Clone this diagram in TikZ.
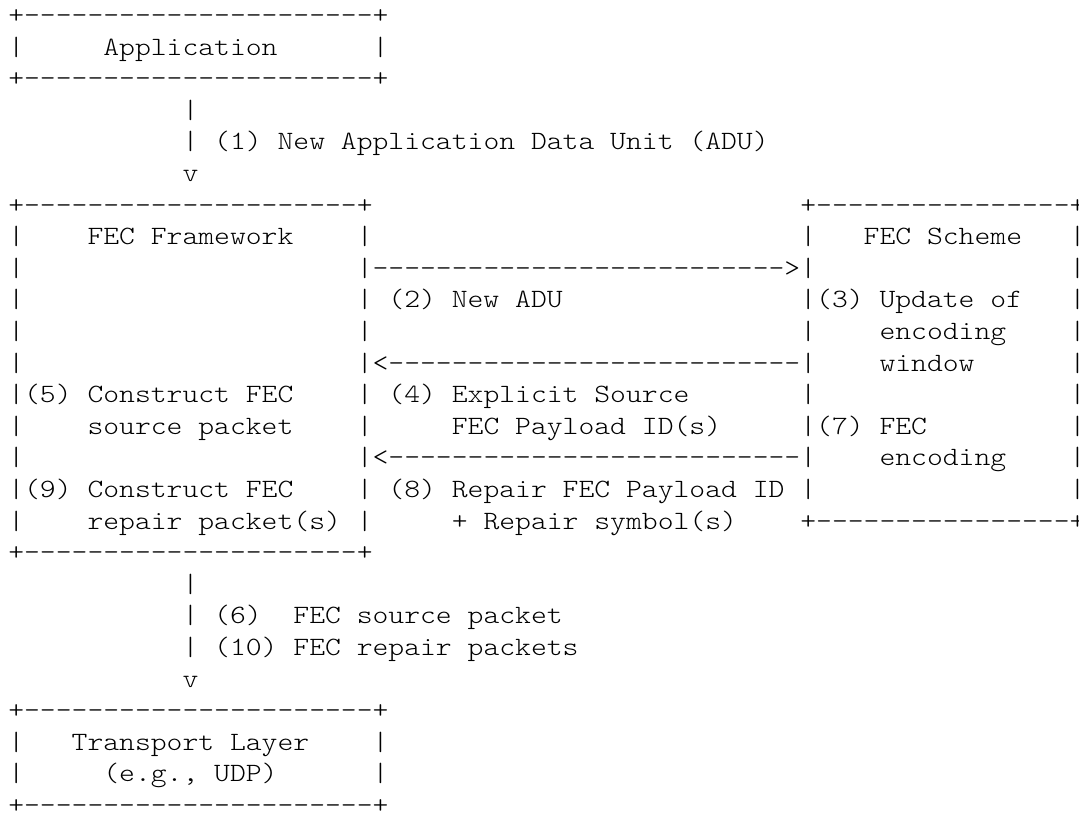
\documentclass[tikz,border=0pt]{standalone}
\usepackage{fontspec}
\setmonofont{lmmonolt10-regular.otf}
\frenchspacing
\newcommand\gap[1]{\hspace*{\dimexpr #1\fontcharwd\font`x\relax}}
\newcommand\mline[1]{\scalebox{1.1429}[1]{#1}}
\tikzset{
  asciiline/.style={font=\ttfamily\fontsize{26.4pt}{31.6pt}\selectfont\frenchspacing,
    inner sep=0pt, outer sep=0pt, anchor=base west, text=black}
}
\begin{document}
\begin{tikzpicture}
\useasboundingbox[fill=white] (0pt,0pt) rectangle (1079pt,-812pt);
\begin{scope}[x=15.84pt, y=-31.6pt, shift={(8.3pt,-23.5pt)}]
\node[asciiline] (l0)  at (0,0)  {\mline{+----------------------+}};
\node[asciiline] (l1)  at (0,1)  {\mline{|\gap{5}Application\gap{6}|}};
\node[asciiline] (l2)  at (0,2)  {\mline{+----------------------+}};
\node[asciiline] (l3)  at (0,3)  {\mline{\gap{11}|}};
\node[asciiline] (l4)  at (0,4)  {\mline{\gap{11}| (1) New Application Data Unit (ADU)}};
\node[asciiline] (l5)  at (0,5)  {\mline{\gap{11}v}};
\node[asciiline] (l6)  at (0,6)  {\mline{+---------------------+\gap{27}+----------------+}};
\node[asciiline] (l7)  at (0,7)  {\mline{|\gap{4}FEC Framework\gap{4}|\gap{27}|\gap{3}FEC Scheme\gap{3}|}};
\node[asciiline] (l8)  at (0,8)  {\mline{|\gap{21}|-------------------------->|\gap{16}|}};
\node[asciiline] (l9)  at (0,9)  {\mline{|\gap{21}| (2) New ADU\gap{15}|(3) Update of\gap{3}|}};
\node[asciiline] (l10) at (0,10) {\mline{|\gap{21}|\gap{27}|\gap{4}encoding\gap{4}|}};
\node[asciiline] (l11) at (0,11) {\mline{|\gap{21}|<--------------------------|\gap{4}window\gap{6}|}};
\node[asciiline] (l12) at (0,12) {\mline{|(5) Construct FEC\gap{4}| (4) Explicit Source\gap{7}|\gap{16}|}};
\node[asciiline] (l13) at (0,13) {\mline{|\gap{4}source packet\gap{4}|\gap{5}FEC Payload ID(s)\gap{5}|(7) FEC\gap{9}|}};
\node[asciiline] (l14) at (0,14) {\mline{|\gap{21}|<--------------------------|\gap{4}encoding\gap{4}|}};
\node[asciiline] (l15) at (0,15) {\mline{|(9) Construct FEC\gap{4}| (8) Repair FEC Payload ID |\gap{16}|}};
\node[asciiline] (l16) at (0,16) {\mline{|\gap{4}repair packet(s) |\gap{5}+ Repair symbol(s)\gap{4}+----------------+}};
\node[asciiline] (l17) at (0,17) {\mline{+---------------------+}};
\node[asciiline] (l18) at (0,18) {\mline{\gap{11}|}};
\node[asciiline] (l19) at (0,19) {\mline{\gap{11}| (6)\gap{2}FEC source packet}};
\node[asciiline] (l20) at (0,20) {\mline{\gap{11}| (10) FEC repair packets}};
\node[asciiline] (l21) at (0,21) {\mline{\gap{11}v}};
\node[asciiline] (l22) at (0,22) {\mline{+----------------------+}};
\node[asciiline] (l23) at (0,23) {\mline{|\gap{3}Transport Layer\gap{4}|}};
\node[asciiline] (l24) at (0,24) {\mline{|\gap{5}(e.g., UDP)\gap{6}|}};
\node[asciiline] (l25) at (0,25) {\mline{+----------------------+}};
\end{scope}
\end{tikzpicture}
\end{document}
